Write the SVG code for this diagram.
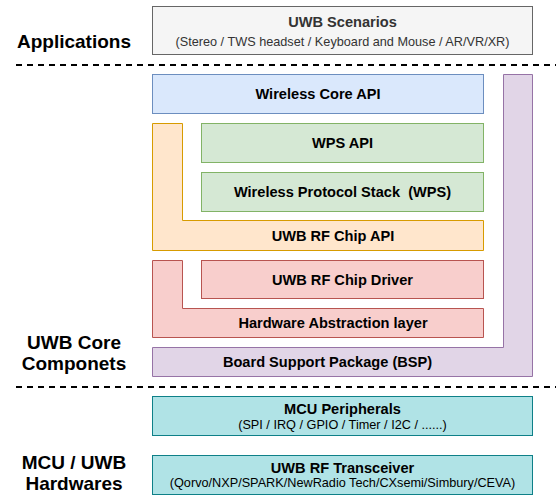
<svg xmlns="http://www.w3.org/2000/svg" width="556" height="496" viewBox="0 0 556 496">
  <style>
    text { font-family: "Liberation Sans", Arial, sans-serif; text-anchor: middle; fill: #000; }
    .t { font-size: 14.6px; font-weight: bold; white-space: pre; }
    .s { font-size: 12.7px; }
    .lbl { font-size: 19px; font-weight: bold; }
    .gray { fill: #f5f5f5; stroke: #666666; }
    .blue { fill: #dae8fc; stroke: #6c8ebf; }
    .green { fill: #d5e8d4; stroke: #82b366; }
    .orange { fill: #ffe6cc; stroke: #d79b00; }
    .red { fill: #f8cecc; stroke: #b85450; }
    .purple { fill: #e1d5e7; stroke: #9673a6; }
    .teal { fill: #b0e3e6; stroke: #0e8088; }
    .sep { stroke: #000; stroke-width: 2; stroke-dasharray: 6 5; fill: none; }
  </style>

  <g id="labels">
    <text class="lbl" x="74" y="48">Applications</text>
    <text class="lbl" x="74" y="349">UWB Core</text>
    <text class="lbl" x="74" y="370">Componets</text>
    <text class="lbl" x="74" y="469">MCU / UWB</text>
    <text class="lbl" x="74" y="490">Hardwares</text>
  </g>

  <g id="separators">
    <line class="sep" x1="16" y1="65" x2="556" y2="65"/>
    <line class="sep" x1="16" y1="387" x2="556" y2="387"/>
  </g>

  <g id="uwb-scenarios">
    <rect class="gray" x="152.5" y="6.5" width="380" height="48"/>
    <text class="t" x="342.5" y="27" style="fill:#333333">UWB Scenarios</text>
    <text class="s" x="342.5" y="46" style="fill:#333333">(Stereo / TWS headset / Keyboard and Mouse / AR/VR/XR)</text>
  </g>

  <g id="bsp">
    <path class="purple" d="M503.5,74.5 H532.5 V376.5 H152.5 V347.5 H503.5 Z"/>
    <text class="t" x="327.5" y="367">Board Support Package (BSP)</text>
  </g>

  <g id="wireless-core-api">
    <rect class="blue" x="152.5" y="74.5" width="331" height="39"/>
    <text class="t" x="318" y="99">Wireless Core API</text>
  </g>

  <g id="uwb-rf-chip-api">
    <path class="orange" d="M152.5,123.5 H182.5 V220.5 H483.5 V250.5 H152.5 Z"/>
    <text class="t" x="333" y="240.5">UWB RF Chip API</text>
  </g>

  <g id="wps-api">
    <rect class="green" x="201.5" y="123.5" width="282" height="39"/>
    <text class="t" x="342.5" y="148">WPS API</text>
  </g>

  <g id="wps">
    <rect class="green" x="201.5" y="172.5" width="282" height="39"/>
    <text class="t" x="342.5" y="197">Wireless Protocol Stack  (WPS)</text>
  </g>

  <g id="hal">
    <path class="red" d="M152.5,260.5 H182.5 V308.5 H483.5 V337.5 H152.5 Z"/>
    <text class="t" x="333" y="328">Hardware Abstraction layer</text>
  </g>

  <g id="uwb-rf-chip-driver">
    <rect class="red" x="201.5" y="260.5" width="282" height="38"/>
    <text class="t" x="342.5" y="284.5">UWB RF Chip Driver</text>
  </g>

  <g id="mcu-peripherals">
    <rect class="teal" x="152.5" y="396.5" width="380" height="39"/>
    <text class="t" x="342.5" y="414">MCU Peripherals</text>
    <text class="s" x="342.5" y="428.5">(SPI / IRQ / GPIO / Timer / I2C / ......)</text>
  </g>

  <g id="uwb-rf-transceiver">
    <rect class="teal" x="152.5" y="455.5" width="380" height="39"/>
    <text class="t" x="342.5" y="472.5">UWB RF Transceiver</text>
    <text class="s" x="342.5" y="487">(Qorvo/NXP/SPARK/NewRadio Tech/CXsemi/Simbury/CEVA)</text>
  </g>

  <g id="connectors"></g>
</svg>
